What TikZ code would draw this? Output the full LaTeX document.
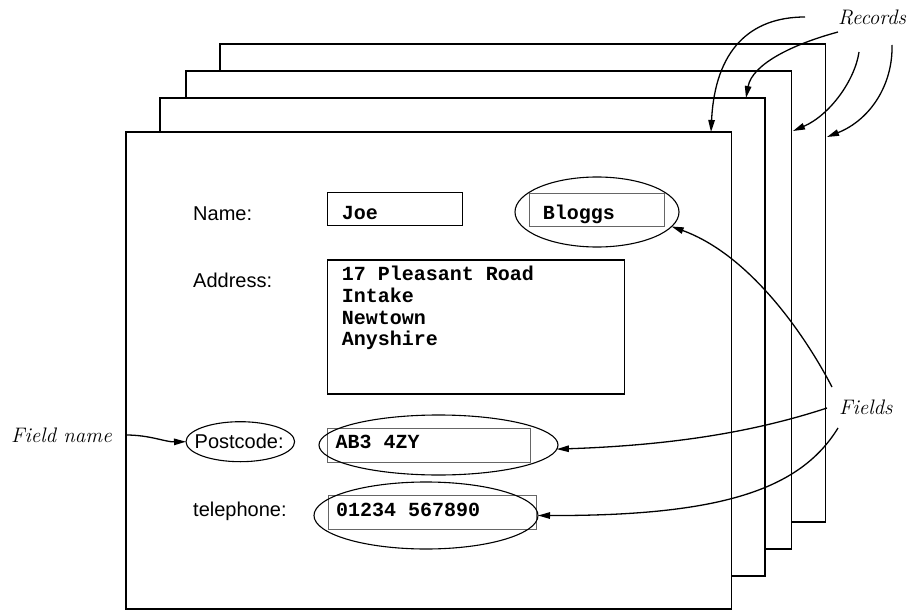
\documentclass[tikz,border=0pt]{standalone}
\usepackage{fontspec}
\newfontfamily\labsans{Liberation Sans}
\newfontfamily\fieldmono{Liberation Mono}
\usetikzlibrary{arrows.meta,shapes.geometric,calc}
\begin{document}
\begin{tikzpicture}[x=1pt,y=-1pt,
  rec/.style={draw, line width=1.5pt, fill=white, rectangle, inner sep=0, outer sep=0, anchor=north west},
  fbox/.style={draw, line width=1.2pt, inner sep=0, outer sep=0, anchor=north west},
  gbox/.style={draw=black!60, line width=0.9pt, inner sep=0, outer sep=0, anchor=north west},
  ring/.style={draw, ellipse, line width=1.1pt, inner sep=0, outer sep=0},
  lbl/.style={font=\labsans\fontsize{20}{24}\selectfont, inner sep=0, anchor=base west},
  val/.style={font=\fieldmono\bfseries\fontsize{20}{22}\selectfont, inner sep=0, anchor=base west},
  note/.style={font=\itshape\fontsize{21}{24}\selectfont, inner sep=0, anchor=base west},
  arr/.style={-{Triangle[length=12pt,width=6.5pt]}, line width=1.3pt},
]
\useasboundingbox (0,0) rectangle (916,610);

% stacked records
\node[rec, minimum width=605.5pt, minimum height=478pt] (r4) at (220,44) {};
\node[rec, minimum width=605.5pt, minimum height=478pt] (r3) at (186,71) {};
\node[rec, minimum width=605pt, minimum height=478pt] (r2) at (160,98) {};
\node[rec, minimum width=605.5pt, minimum height=477pt] (r1) at (126,132) {};

% field boxes
\node[fbox, minimum width=135pt, minimum height=33pt] (joeB) at (327.7,192.7) {};
\node[gbox, minimum width=135pt, minimum height=33pt] (bloggsB) at (529.3,193) {};
\node[fbox, minimum width=297pt, minimum height=134pt] (addrB) at (327.7,260) {};
\node[gbox, minimum width=203pt, minimum height=34pt] (pcB) at (327.7,428) {};
\node[gbox, minimum width=208.5pt, minimum height=34pt] (telB) at (328.3,495) {};

% ellipses
\node[ring, minimum width=164pt, minimum height=70pt] (bloggsE) at (597,212) {};
\node[ring, minimum width=239pt, minimum height=60pt] (ab3E) at (438.5,445) {};
\node[ring, minimum width=224pt, minimum height=67pt] (telE) at (426,515.5) {};
\node[ring, minimum width=108.6pt, minimum height=40pt] (pcE) at (240.3,441.7) {};

% field names
\node[lbl] (nameL) at (193,220) {Name:};
\node[lbl] (addrL) at (193,287) {Address:};
\node[lbl] (pcL) at (194.5,448) {Postcode:};
\node[lbl] (telL) at (193,516) {telephone:};

% field values
\node[val] (joeT) at (341.7,219.3) {Joe};
\node[val] (bloggsT) at (542.7,219) {Bloggs};
\node[val] (a1) at (341.7,280) {17 Pleasant Road};
\node[val] (a2) at (341.7,302) {Intake};
\node[val] (a3) at (341.7,324) {Newtown};
\node[val] (a4) at (341.7,345) {Anyshire};
\node[val] (pcT) at (335.4,448) {AB3 4ZY};
\node[val] (telT) at (336,516) {01234 567890};

% annotations
\node[note] (recordsN) at (838,25) {Records};
\node[note] (fieldsN) at (839,414) {Fields};
\node[note] (fieldnameN) at (11,442) {Field name};

% arrow free ends
\coordinate (ra) at (805,17);
\coordinate (rb) at (838,32);
\coordinate (rc) at (859,52);
\coordinate (rd) at (892,45);
\coordinate (fa) at (832,387);
\coordinate (fb) at (827,408);
\coordinate (fc) at (838,428);
\coordinate (fn) at (126,435);

% arrow tips on records
\coordinate (t1) at ($(r1.north east)+(-20.5,0)$);
\coordinate (t2) at ($(r2.north east)+(-19,0)$);
\coordinate (t3) at ($(r3.north east)+(1.5,60)$);
\coordinate (t4) at ($(r4.north east)+(1.5,93)$);

\draw[arr] (ra) .. controls (750,17) and (715,50) .. (t1);
\draw[arr] (rb) .. controls (790,45) and (752,65) .. (t2);
\draw[arr] (rc) .. controls (855,80) and (830,115) .. (t3);
\draw[arr] (rd) .. controls (893,85) and (870,120) .. (t4);

\draw[arr] (fa) .. controls (805,335) and (750,255) .. (bloggsE.-11);
\draw[arr] (fb) .. controls (760,430) and (680,445) .. (ab3E.-2);
\draw[arr] (fc) .. controls (800,490) and (720,516) .. (telE.east);
\draw[arr] (fn) .. controls (150,435) and (165,442) .. (pcE.west);
\end{tikzpicture}
\end{document}
